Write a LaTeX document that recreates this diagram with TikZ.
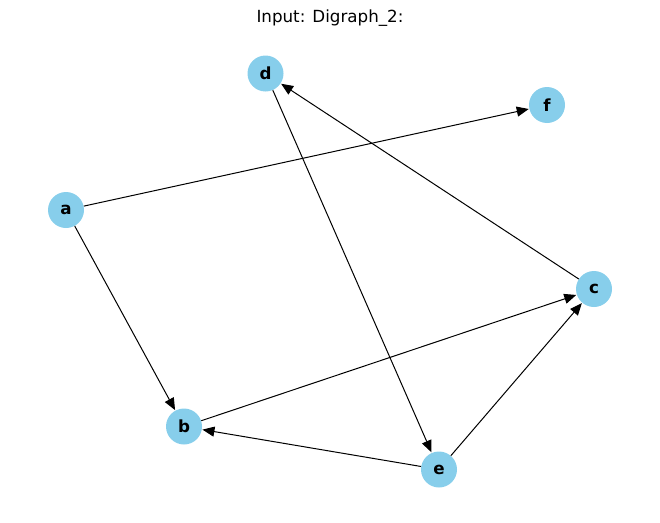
\documentclass[tikz,border=0pt]{standalone}
\usepackage{fontspec}
\setmainfont{DejaVu Sans}
\usetikzlibrary{arrows.meta}
\begin{document}
\begin{tikzpicture}[x=1pt,y=-1pt,
  vertex/.style={circle,fill={rgb,255:red,135;green,206;blue,235},minimum size=36pt,inner sep=0pt,font=\fontsize{16.7}{20}\selectfont\bfseries},
  edge/.style={-{Triangle[length=12pt,width=10pt]},line width=1pt,black,shorten >=0.5pt}]
\useasboundingbox (0,0) rectangle (660,522);
\node[font=\fontsize{16.7}{20}\selectfont] (title) at (330,18) {Input: Digraph\_2:};
\node[vertex] (d) at (265.5,73.5) {d};
\node[vertex] (f) at (547,105) {f};
\node[vertex] (a) at (66,210) {a};
\node[vertex] (c) at (594,289) {c};
\node[vertex] (b) at (184,426.5) {b};
\node[vertex] (e) at (439,469.5) {e};
\draw[edge] (a) -- (f);
\draw[edge] (a) -- (b);
\draw[edge] (d) -- (e);
\draw[edge] (c) -- (d);
\draw[edge] (b) -- (c);
\draw[edge] (e) -- (b);
\draw[edge] (e) -- (c);
\end{tikzpicture}
\end{document}
